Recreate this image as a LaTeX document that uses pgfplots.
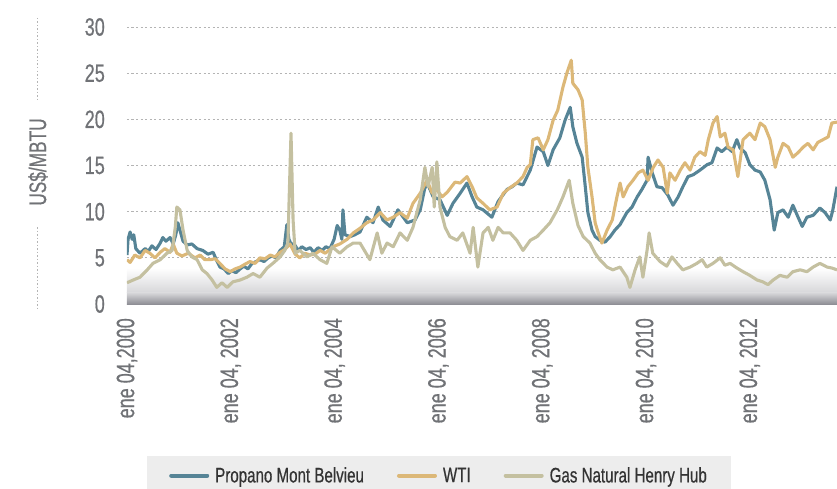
\documentclass[border=0pt]{standalone}
\usepackage{pgfplots}
\pgfplotsset{compat=1.18}
\usepackage{fontspec}
\setmainfont{Liberation Sans}[FakeStretch=0.72, FakeBold=0.6]
\definecolor{cBlue}{RGB}{86,132,150}
\definecolor{cGold}{RGB}{220,184,120}
\definecolor{cGas}{RGB}{196,192,160}
\definecolor{cTick}{RGB}{112,114,118}
\definecolor{cGrid}{RGB}{180,180,180}
\definecolor{cLeg}{RGB}{237,237,237}
\definecolor{cShade}{RGB}{128,128,136}
\begin{document}
\begin{tikzpicture}
\useasboundingbox (-127pt,-184pt) rectangle (710pt,304pt);
\begin{axis}[
  at={(0pt,0pt)}, anchor=south west,
  scale only axis, width=710pt, height=277pt,
  xmin=2000, xmax=2013.68, ymin=0, ymax=30,
  axis line style={draw=none},
  major tick length=0pt,
  ytick={0,5,...,30},
  xtick={2000,2002,2004,2006,2008,2010,2012},
  xticklabels={{ene 04,2000},{ene 04, 2002},{ene 04, 2004},{ene 04, 2006},{ene 04, 2008},{ene 04, 2010},{ene 04, 2012}},
  ymajorgrids,
  grid style={cGrid, dash pattern=on 2pt off 2.5pt, line width=0.9pt},
  tick label style={font=\fontsize{25}{28}\selectfont, text=cTick},
  /pgf/number format/assume math mode=true,
  yticklabel style={anchor=east, inner sep=0pt, xshift=-22pt},
  xticklabel style={rotate=90, anchor=east, inner sep=0pt},
  xticklabel shift=14pt,
  legend columns=3,
  legend style={at={(axis description cs:0.0282,-0.5487)}, anchor=north west, fill=cLeg, draw=none,
    font=\fontsize{21}{24}\selectfont, text=black!80, inner xsep=22pt, inner ysep=9pt,
    /tikz/every odd column/.append style={column sep=4pt},
    /tikz/every even column/.append style={column sep=31pt}},
  legend image code/.code={\draw[line width=4pt, line cap=round] (0pt,0pt) -- (36pt,0pt);},
  legend cell align=left,
  every axis plot/.append style={line width=3.1pt, line join=round},
]
\fill[top color=white, bottom color=cShade!32, draw=none] (axis cs:2000,1.2) rectangle (axis cs:2013.68,3.9);
\fill[top color=cShade!32, bottom color=cShade!88, draw=none] (axis cs:2000,0) rectangle (axis cs:2013.68,1.21);

\addplot[cBlue] coordinates {
(2000.00,5.3)(2000.02,7.0)(2000.06,7.8)(2000.10,7.0)(2000.13,7.5)(2000.17,6.0)(2000.25,5.5)(2000.35,6.0)(2000.41,5.7)(2000.48,6.3)(2000.56,5.9)(2000.64,6.6)(2000.69,7.2)(2000.75,6.8)(2000.83,7.2)(2000.89,6.5)(2000.94,7.5)(2000.98,8.8)(2001.02,8.0)(2001.08,6.8)(2001.16,6.4)(2001.25,6.5)(2001.35,6.0)(2001.46,5.8)(2001.56,5.4)(2001.66,5.6)(2001.72,4.8)(2001.79,4.0)(2001.87,3.8)(2001.95,3.3)(2002.02,3.6)(2002.10,3.4)(2002.18,3.8)(2002.25,4.1)(2002.33,3.8)(2002.41,4.4)(2002.49,4.6)(2002.56,4.8)(2002.64,4.6)(2002.72,5.0)(2002.79,5.2)(2002.87,5.0)(2002.95,5.8)(2003.03,6.2)(2003.08,8.6)(2003.12,7.0)(2003.16,6.5)(2003.22,6.5)(2003.30,5.8)(2003.37,6.2)(2003.45,5.9)(2003.53,6.1)(2003.60,5.6)(2003.68,6.1)(2003.76,5.8)(2003.83,6.2)(2003.91,6.0)(2003.99,7.0)(2004.05,8.5)(2004.10,8.0)(2004.14,7.0)(2004.16,10.2)(2004.20,7.5)(2004.30,7.3)(2004.39,7.5)(2004.49,7.8)(2004.62,9.4)(2004.74,8.8)(2004.84,10.5)(2004.93,9.1)(2005.07,8.4)(2005.22,10.2)(2005.40,8.8)(2005.55,9.1)(2005.65,10.2)(2005.74,12.6)(2005.80,12.9)(2005.90,11.6)(2006.03,11.3)(2006.17,9.6)(2006.28,10.9)(2006.42,12.0)(2006.55,13.1)(2006.65,11.6)(2006.74,10.5)(2006.86,10.2)(2007.03,9.4)(2007.15,11.1)(2007.32,12.4)(2007.42,12.7)(2007.51,13.1)(2007.63,12.9)(2007.77,14.5)(2007.90,17.0)(2008.02,16.5)(2008.11,15.0)(2008.21,16.7)(2008.34,18.0)(2008.44,19.9)(2008.54,21.3)(2008.59,19.2)(2008.67,17.4)(2008.77,15.9)(2008.83,12.7)(2008.88,9.9)(2008.96,8.0)(2009.02,7.3)(2009.11,6.9)(2009.21,6.7)(2009.31,7.3)(2009.40,8.0)(2009.50,8.6)(2009.63,9.9)(2009.73,10.5)(2009.83,11.6)(2009.92,12.4)(2010.02,13.4)(2010.04,15.9)(2010.12,14.2)(2010.21,12.7)(2010.31,12.6)(2010.42,11.8)(2010.52,10.7)(2010.62,11.6)(2010.71,12.7)(2010.81,13.8)(2010.91,14.0)(2011.04,14.5)(2011.18,15.1)(2011.27,15.3)(2011.37,16.9)(2011.46,16.5)(2011.56,17.0)(2011.66,16.5)(2011.75,17.8)(2011.81,16.9)(2011.91,16.4)(2012.00,15.1)(2012.10,14.5)(2012.20,14.3)(2012.29,13.4)(2012.39,11.3)(2012.47,8.0)(2012.54,9.9)(2012.64,10.2)(2012.74,9.4)(2012.83,10.7)(2012.93,9.4)(2013.01,8.4)(2013.10,9.4)(2013.22,9.6)(2013.35,10.4)(2013.45,9.9)(2013.55,9.1)(2013.60,10.2)(2013.68,12.7)
};
\addlegendentry{Propano Mont Belvieu}

\addplot[cGold] coordinates {
(2000.00,4.8)(2000.06,4.5)(2000.15,5.3)(2000.25,5.0)(2000.35,5.8)(2000.44,5.5)(2000.54,5.0)(2000.64,5.6)(2000.73,6.0)(2000.83,5.6)(2000.89,6.5)(2000.96,5.5)(2001.06,5.2)(2001.18,5.5)(2001.31,5.0)(2001.41,5.3)(2001.50,4.8)(2001.60,4.8)(2001.70,4.9)(2001.79,4.4)(2001.89,3.8)(2001.99,3.5)(2002.08,3.8)(2002.18,4.0)(2002.27,4.3)(2002.37,4.6)(2002.47,4.4)(2002.56,5.0)(2002.66,4.9)(2002.76,5.3)(2002.85,5.1)(2002.95,5.6)(2003.04,5.9)(2003.14,6.5)(2003.24,5.4)(2003.33,5.0)(2003.43,5.5)(2003.53,5.3)(2003.62,5.4)(2003.72,5.8)(2003.82,5.5)(2003.91,5.9)(2004.01,6.3)(2004.10,6.5)(2004.24,7.0)(2004.36,7.7)(2004.49,8.2)(2004.62,8.8)(2004.74,9.1)(2004.88,9.9)(2005.01,9.1)(2005.13,9.4)(2005.26,9.9)(2005.40,9.3)(2005.51,10.9)(2005.65,12.0)(2005.78,13.4)(2005.88,12.0)(2005.97,12.4)(2006.07,11.6)(2006.17,12.1)(2006.32,13.2)(2006.42,13.1)(2006.55,13.8)(2006.65,12.7)(2006.74,11.5)(2006.86,10.9)(2006.99,10.2)(2007.13,10.5)(2007.25,12.0)(2007.38,12.6)(2007.51,13.1)(2007.63,13.8)(2007.71,14.8)(2007.77,15.1)(2007.82,17.8)(2007.92,18.0)(2008.02,16.7)(2008.11,17.8)(2008.21,19.9)(2008.30,21.0)(2008.40,23.5)(2008.48,25.1)(2008.56,26.4)(2008.59,23.9)(2008.69,23.2)(2008.77,22.1)(2008.83,18.5)(2008.88,14.8)(2008.96,11.6)(2009.02,8.8)(2009.08,7.7)(2009.15,6.6)(2009.25,8.0)(2009.35,9.1)(2009.44,11.6)(2009.50,13.1)(2009.56,11.6)(2009.65,12.7)(2009.75,13.4)(2009.85,14.2)(2009.94,14.5)(2010.04,13.4)(2010.14,14.8)(2010.23,15.6)(2010.33,14.8)(2010.41,12.0)(2010.46,14.2)(2010.56,13.4)(2010.66,14.5)(2010.75,15.3)(2010.85,14.5)(2010.94,15.9)(2011.04,16.5)(2011.14,16.1)(2011.20,17.8)(2011.29,19.6)(2011.37,20.3)(2011.43,18.1)(2011.52,18.5)(2011.58,17.0)(2011.68,16.7)(2011.77,13.8)(2011.87,17.8)(2012.00,18.5)(2012.10,17.8)(2012.20,19.6)(2012.29,19.2)(2012.39,17.8)(2012.49,14.8)(2012.54,15.9)(2012.64,17.4)(2012.74,17.0)(2012.83,15.9)(2012.93,16.4)(2013.03,17.0)(2013.12,17.4)(2013.22,16.7)(2013.31,17.5)(2013.41,17.8)(2013.51,18.1)(2013.58,19.6)(2013.68,19.7)
};
\addlegendentry{WTI}

\addplot[cGas] coordinates {
(2000.00,2.3)(2000.12,2.6)(2000.25,2.9)(2000.39,3.7)(2000.50,4.4)(2000.64,4.8)(2000.77,5.5)(2000.87,5.8)(2000.93,8.3)(2000.96,10.5)(2001.02,10.2)(2001.08,8.0)(2001.16,5.8)(2001.25,5.1)(2001.35,4.8)(2001.45,3.7)(2001.54,3.3)(2001.64,2.6)(2001.73,1.8)(2001.83,2.3)(2001.93,1.8)(2002.04,2.4)(2002.18,2.6)(2002.31,2.9)(2002.43,3.3)(2002.56,2.9)(2002.70,3.9)(2002.81,4.4)(2002.95,5.1)(2003.04,5.8)(2003.10,6.6)(2003.16,18.5)(2003.20,9.1)(2003.24,5.5)(2003.33,5.8)(2003.47,5.1)(2003.58,5.5)(2003.72,4.8)(2003.85,4.4)(2003.95,6.2)(2004.10,5.5)(2004.24,6.2)(2004.36,6.6)(2004.49,6.6)(2004.68,4.8)(2004.82,7.7)(2004.91,5.5)(2005.01,6.6)(2005.13,6.2)(2005.26,7.7)(2005.40,6.9)(2005.51,8.3)(2005.65,11.3)(2005.74,14.8)(2005.80,12.7)(2005.88,14.8)(2005.92,10.5)(2005.97,15.4)(2006.03,10.5)(2006.13,8.3)(2006.22,7.3)(2006.36,6.9)(2006.47,7.7)(2006.61,5.5)(2006.67,8.3)(2006.76,4.0)(2006.86,7.7)(2006.96,8.3)(2007.05,6.9)(2007.15,8.3)(2007.25,7.7)(2007.38,7.7)(2007.51,6.9)(2007.63,5.8)(2007.77,6.9)(2007.90,7.3)(2008.02,8.0)(2008.15,8.8)(2008.29,10.2)(2008.40,11.6)(2008.52,13.4)(2008.59,10.9)(2008.69,8.5)(2008.79,7.3)(2008.92,6.6)(2009.02,5.5)(2009.11,4.8)(2009.25,4.0)(2009.36,3.7)(2009.50,4.0)(2009.63,2.9)(2009.69,1.8)(2009.79,3.7)(2009.88,5.1)(2009.94,2.9)(2010.02,5.8)(2010.06,7.7)(2010.13,5.5)(2010.27,4.6)(2010.40,4.1)(2010.50,5.1)(2010.60,4.4)(2010.71,3.7)(2010.85,4.0)(2010.98,4.4)(2011.08,4.8)(2011.17,4.0)(2011.29,4.4)(2011.43,5.0)(2011.52,4.2)(2011.62,4.4)(2011.75,3.9)(2011.87,3.5)(2012.00,3.1)(2012.14,2.6)(2012.25,2.4)(2012.35,2.1)(2012.45,2.6)(2012.58,3.1)(2012.72,2.9)(2012.83,3.5)(2012.97,3.7)(2013.10,3.5)(2013.22,4.0)(2013.35,4.4)(2013.49,4.0)(2013.58,3.9)(2013.68,3.7)
};
\addlegendentry{Gas Natural Henry Hub}
\end{axis}
\node[rotate=90, text=cTick, font=\fontsize{24}{28}\selectfont] at (-89pt,142pt) {US\$/MBTU};
\draw[cGrid, line width=1pt, dash pattern=on 1.5pt off 2pt] (-89pt,286pt) -- (-89pt,204pt);
\draw[cGrid, line width=1pt, dash pattern=on 1.5pt off 2pt] (-89pt,77pt) -- (-89pt,-4pt);
\end{tikzpicture}
\end{document}
